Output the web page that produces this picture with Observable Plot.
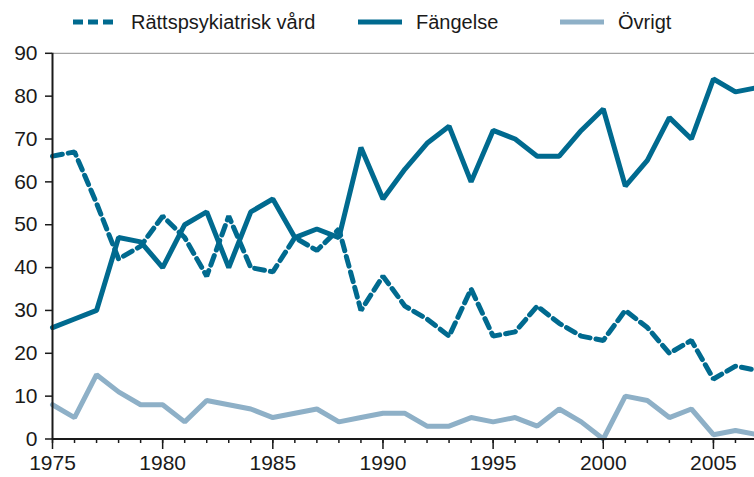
<!DOCTYPE html>
<html>
<head>
<meta charset="utf-8">
<script src="https://cdn.jsdelivr.net/npm/d3@7"></script>
<script src="https://cdn.jsdelivr.net/npm/@observablehq/plot@0.6"></script>
<style>
  html, body { margin: 0; padding: 0; background: #fff; }
  body { width: 754px; height: 477px; overflow: hidden; position: relative; font-family: "Liberation Sans", Arial, sans-serif; }
  #legend { position: absolute; left: 0; top: 2px; width: 754px; height: 40px; }
  .item { position: absolute; top: 0; height: 40px; display: flex; align-items: center; font-size: 20px; color: #1a1a1a; }
  .item svg { margin-right: 14px; }
  #chart { position: absolute; left: 0; top: 40px; }
</style>
</head>
<body>
<div id="legend"></div>
<div id="chart"></div>
<script>
const years = [1975,1976,1977,1978,1979,1980,1981,1982,1983,1984,1985,1986,1987,1988,1989,1990,1991,1992,1993,1994,1995,1996,1997,1998,1999,2000,2001,2002,2003,2004,2005,2006,2007];
const rattspsykiatrisk = [66,67,55,42,45,52,47,38,52,40,39,47,44,49,30,38,31,28,24,35,24,25,31,27,24,23,30,26,20,23,14,17,16];
const fangelse = [26,28,30,47,46,40,50,53,40,53,56,47,49,47,68,56,63,69,73,60,72,70,66,66,72,77,59,65,75,70,84,81,82];
const ovrigt = [8,5,15,11,8,8,4,9,8,7,5,6,7,4,5,6,6,3,3,5,4,5,3,7,4,0,10,9,5,7,1,2,1];
const seriesNames = ["Rättspsykiatrisk vård", "Fängelse", "Övrigt"];
const yTicks = [0,10,20,30,40,50,60,70,80,90];
const xMajorTicks = [1975,1980,1985,1990,1995,2000,2005];

const dark = "#006a8f";
const light = "#8eb0c7";

const toRows = (vals, name) => years.map((y, i) => ({year: y, value: vals[i], series: name}));
const dRatt = toRows(rattspsykiatrisk, seriesNames[0]);
const dFang = toRows(fangelse, seriesNames[1]);
const dOvr = toRows(ovrigt, seriesNames[2]);

// Legend
const legendSpec = [
  {name: seriesNames[0], color: dark, dash: "10,5", left: 73},
  {name: seriesNames[1], color: dark, dash: null, left: 358},
  {name: seriesNames[2], color: light, dash: null, left: 560}
];
const legend = document.getElementById("legend");
for (const s of legendSpec) {
  const div = document.createElement("div");
  div.className = "item";
  div.style.left = s.left + "px";
  div.innerHTML = `<svg width="44" height="10"><line x1="0" x2="44" y1="5" y2="5" stroke="${s.color}" stroke-width="5" ${s.dash ? `stroke-dasharray="${s.dash}"` : ""}/></svg><span>${s.name}</span>`;
  legend.appendChild(div);
}

const chart = Plot.plot({
  width: 754,
  height: 437,
  marginTop: 13,
  marginBottom: 39,
  marginLeft: 52,
  marginRight: 0,
  style: {fontFamily: "Liberation Sans, Arial, sans-serif", fontSize: "21px", color: "#1a1a1a", background: "transparent", overflow: "hidden"},
  x: {domain: [1975, 2007], range: [52, 757]},
  y: {domain: [0, 90], range: [398.5, 12.8]},
  marks: [
    Plot.ruleY([90], {x1: 1975, x2: 2007, stroke: "#a3a3a3", strokeWidth: 1.2}),
    Plot.lineY(dOvr, {x: "year", y: "value", stroke: light, strokeWidth: 5, strokeLinejoin: "miter"}),
    Plot.lineY(dRatt, {x: "year", y: "value", stroke: dark, strokeWidth: 5, strokeDasharray: "10,6", strokeLinejoin: "miter"}),
    Plot.lineY(dFang, {x: "year", y: "value", stroke: dark, strokeWidth: 5, strokeLinejoin: "miter"}),
    Plot.axisY({ticks: yTicks, tickSize: 7, tickPadding: 8, tickFormat: d => String(d), label: null, stroke: "#1a1a1a", strokeWidth: 1.5, fontSize: 21}),
    Plot.axisX({ticks: years, tickSize: 5, tickFormat: () => "", label: null, stroke: "#1a1a1a", strokeWidth: 1.5}),
    Plot.axisX({ticks: xMajorTicks, tickSize: 11, tickPadding: 6, tickFormat: d => String(d), label: null, stroke: "#1a1a1a", strokeWidth: 1.5, fontSize: 21}),
    Plot.ruleX([1975], {y1: 0, y2: 90, stroke: "#1a1a1a", strokeWidth: 2}),
    Plot.ruleY([0], {x1: 1975, x2: 2007, stroke: "#1a1a1a", strokeWidth: 2})
  ]
});
document.getElementById("chart").appendChild(chart);
</script>
</body>
</html>
